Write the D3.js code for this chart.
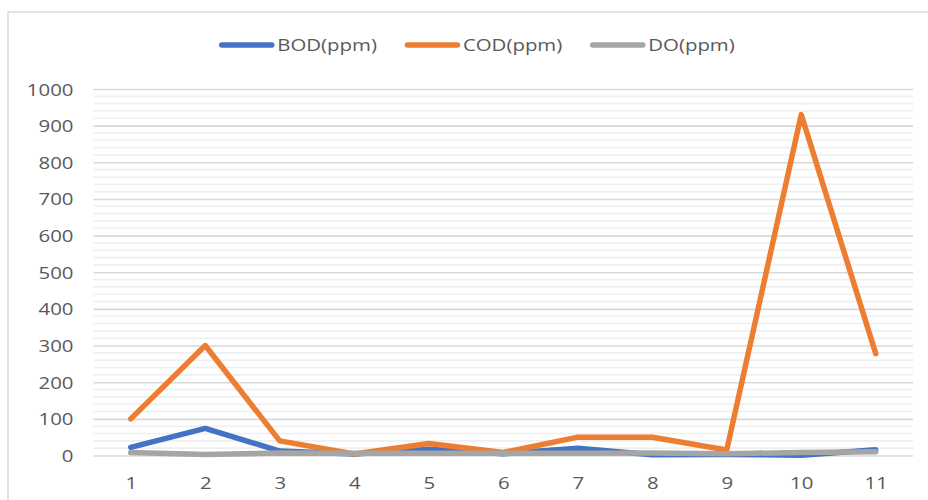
<!DOCTYPE html>
<html>
<head>
<meta charset="utf-8">
<script src="https://cdn.jsdelivr.net/npm/d3@7"></script>
<style>
  html, body { margin: 0; padding: 0; background: #fff; }
  svg { display: block; }
  text { font-family: "Open Sans", "Noto Sans", sans-serif; fill: #595959; }
</style>
</head>
<body>
<svg id="chart" width="928" height="500"></svg>
<script>
// Sampling points 1..11
const categories = ["1", "2", "3", "4", "5", "6", "7", "8", "9", "10", "11"];

// Measured concentrations (ppm)
const bod = [22, 74, 12, 4, 17, 5, 20, 2, 3, 1, 16];
const cod = [100, 300, 40, 4, 33, 8, 50, 50, 15, 930, 278];
const dO  = [8, 3, 7, 6, 6, 6, 6, 7, 5, 8, 10];

const seriesNames = ["BOD(ppm)", "COD(ppm)", "DO(ppm)"];
const seriesColors = ["#4472C4", "#ED7D31", "#A5A5A5"];
const yTicks = [0, 100, 200, 300, 400, 500, 600, 700, 800, 900, 1000];

const series = [bod, cod, dO].map((values, i) => ({
  name: seriesNames[i], color: seriesColors[i], values
}));

const svg = d3.select("#chart");
const W = 928, H = 500;
const plot = { left: 93.5, right: 913, top: 89, bottom: 455.5 };
const textStretch = 1.2;   // labels are drawn slightly wide
const fontSize = 17;

// chart frame
svg.append("rect")
  .attr("x", 8).attr("y", 12)
  .attr("width", W + 10).attr("height", H + 10)
  .attr("fill", "#fff")
  .attr("stroke", "#d9d9d9").attr("stroke-width", 1.5);

const x = d3.scalePoint().domain(categories)
  .range([plot.left, plot.right]).padding(0.5);
const y = d3.scaleLinear().domain([0, 1000])
  .range([plot.bottom, plot.top]);

// minor gridlines every 20
const minor = d3.range(20, 1000, 20).filter(v => v % 100 !== 0);
svg.append("g").selectAll("line").data(minor).join("line")
  .attr("x1", plot.left).attr("x2", plot.right)
  .attr("y1", d => y(d)).attr("y2", d => y(d))
  .attr("stroke", "#efefef").attr("stroke-width", 1.6);

// major gridlines via the y axis
const yAxis = svg.append("g")
  .attr("transform", `translate(${plot.left},0)`)
  .call(d3.axisLeft(y).tickValues(yTicks).tickSize(-(plot.right - plot.left)).tickPadding(0));
yAxis.select(".domain").remove();
yAxis.selectAll(".tick line").attr("stroke", "#d9d9d9").attr("stroke-width", 1.6);
yAxis.selectAll(".tick text").remove();
yAxis.selectAll(".tick").append("text")
  .attr("transform", `translate(-20,6) scale(${textStretch},1)`)
  .attr("text-anchor", "end")
  .style("font-size", fontSize + "px")
  .text(d => d);

// x axis labels
const xAxis = svg.append("g")
  .attr("transform", `translate(0,${plot.bottom})`)
  .call(d3.axisBottom(x).tickSize(0));
xAxis.select(".domain").remove();
xAxis.selectAll(".tick text").remove();
xAxis.selectAll(".tick").append("text")
  .attr("transform", `translate(0,33) scale(${textStretch},1)`)
  .attr("text-anchor", "middle")
  .style("font-size", fontSize + "px")
  .text(d => d);

// lines
const line = d3.line()
  .x((d, i) => x(categories[i]))
  .y(d => y(d));
svg.append("g").selectAll("path").data(series).join("path")
  .attr("d", d => line(d.values))
  .attr("fill", "none")
  .attr("stroke", d => d.color)
  .attr("stroke-width", 5.5)
  .attr("stroke-linecap", "round")
  .attr("stroke-linejoin", "round");

// legend
const legend = svg.append("g");
const swatchW = 55, gapText = 3, gapItem = 28, legendY = 45;
let cursor = 0;
series.forEach(s => {
  const g = legend.append("g").attr("transform", `translate(${cursor},0)`);
  g.append("line")
    .attr("x1", 2.5).attr("x2", swatchW - 2.5)
    .attr("y1", legendY).attr("y2", legendY)
    .attr("stroke", s.color).attr("stroke-width", 5.5)
    .attr("stroke-linecap", "round");
  const t = g.append("text")
    .attr("transform", `translate(${swatchW + gapText},${legendY + 6}) scale(${textStretch},1)`)
    .style("font-size", fontSize + "px")
    .text(s.name);
  const tw = t.node().getComputedTextLength() * textStretch;
  cursor += swatchW + gapText + tw + gapItem;
});
const legendW = cursor - gapItem;
legend.attr("transform", `translate(${477 - legendW / 2},0)`);
</script>
</body>
</html>
